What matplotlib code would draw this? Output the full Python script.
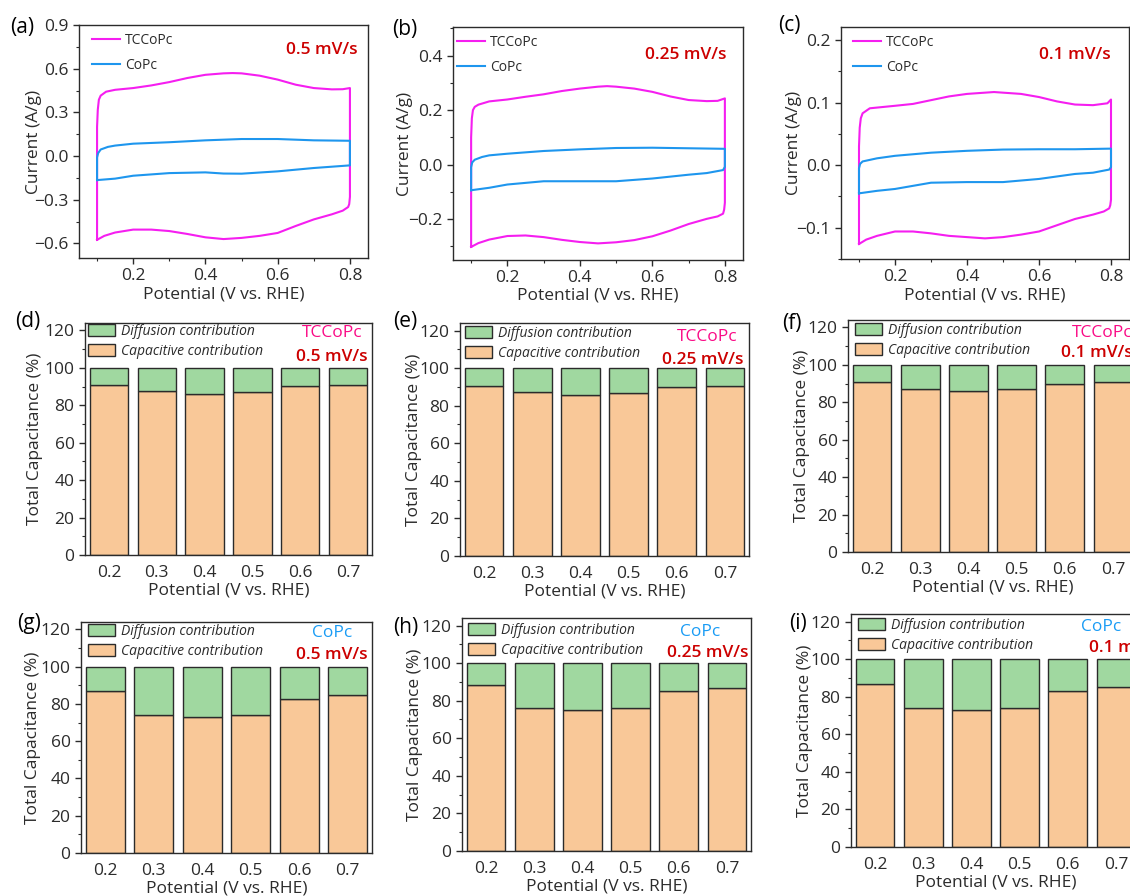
import matplotlib
matplotlib.use("Agg")
import matplotlib.pyplot as plt
from matplotlib.ticker import MultipleLocator

# ---------------------------------------------------------------------------
# Cyclic voltammograms: potential (V vs. RHE) and specific current (A/g)
# each loop = anodic sweep (0.1 -> 0.8 V) followed by cathodic sweep (0.8 -> 0.1 V)
# ---------------------------------------------------------------------------
scan_rates = ["0.5 mV/s", "0.25 mV/s", "0.1 mV/s"]

# 0.5 mV/s
tccopc_05_E_up = [0.100, 0.100, 0.102, 0.105, 0.110, 0.125, 0.150, 0.200, 0.250, 0.300, 0.350,
                  0.400, 0.450, 0.475, 0.500, 0.550, 0.600, 0.650, 0.700, 0.750, 0.780, 0.800]
tccopc_05_I_up = [-0.575, 0.200, 0.318, 0.387, 0.415, 0.442, 0.455, 0.467, 0.485, 0.508, 0.536,
                  0.558, 0.568, 0.570, 0.568, 0.552, 0.525, 0.490, 0.467, 0.458, 0.459, 0.467]
tccopc_05_E_dn = [0.800, 0.800, 0.798, 0.795, 0.780, 0.750, 0.700, 0.650, 0.600, 0.550, 0.500,
                  0.450, 0.400, 0.350, 0.300, 0.250, 0.200, 0.150, 0.120, 0.100]
tccopc_05_I_dn = [0.467, -0.280, -0.330, -0.350, -0.375, -0.400, -0.435, -0.480, -0.528, -0.548,
                  -0.562, -0.570, -0.558, -0.535, -0.515, -0.505, -0.505, -0.525, -0.548, -0.575]
copc_05_E_up = [0.100, 0.100, 0.103, 0.110, 0.130, 0.150, 0.200, 0.300, 0.400, 0.500, 0.600, 0.700, 0.800]
copc_05_I_up = [-0.165, -0.010, 0.020, 0.045, 0.063, 0.072, 0.085, 0.095, 0.108, 0.117, 0.117, 0.108, 0.105]
copc_05_E_dn = [0.800, 0.800, 0.700, 0.600, 0.500, 0.450, 0.400, 0.300, 0.200, 0.150, 0.100]
copc_05_I_dn = [0.105, -0.064, -0.082, -0.105, -0.121, -0.120, -0.112, -0.117, -0.135, -0.155, -0.165]

# 0.25 mV/s
tccopc_025_E_up = [0.100, 0.100, 0.102, 0.105, 0.110, 0.120, 0.150, 0.200, 0.250, 0.300, 0.350,
                   0.400, 0.450, 0.475, 0.500, 0.550, 0.600, 0.650, 0.700, 0.750, 0.780, 0.800]
tccopc_025_I_up = [-0.302, 0.100, 0.170, 0.200, 0.212, 0.220, 0.232, 0.239, 0.249, 0.258, 0.270,
                   0.279, 0.286, 0.288, 0.286, 0.279, 0.267, 0.250, 0.237, 0.233, 0.234, 0.243]
tccopc_025_E_dn = [0.800, 0.800, 0.798, 0.795, 0.780, 0.750, 0.700, 0.650, 0.600, 0.550, 0.500,
                   0.450, 0.400, 0.350, 0.300, 0.250, 0.200, 0.150, 0.120, 0.100]
tccopc_025_I_dn = [0.243, -0.140, -0.165, -0.180, -0.190, -0.199, -0.218, -0.242, -0.263, -0.277,
                   -0.285, -0.289, -0.284, -0.276, -0.266, -0.260, -0.262, -0.275, -0.288, -0.302]
copc_025_E_up = [0.100, 0.100, 0.103, 0.110, 0.130, 0.150, 0.200, 0.300, 0.400, 0.500, 0.600, 0.700, 0.800]
copc_025_I_up = [-0.094, -0.010, 0.008, 0.018, 0.028, 0.034, 0.040, 0.050, 0.056, 0.061, 0.062, 0.060, 0.058]
copc_025_E_dn = [0.800, 0.800, 0.795, 0.750, 0.700, 0.600, 0.500, 0.400, 0.300, 0.200, 0.150, 0.100]
copc_025_I_dn = [0.058, -0.008, -0.020, -0.031, -0.037, -0.051, -0.061, -0.061, -0.061, -0.073, -0.085, -0.094]

# 0.1 mV/s
tccopc_01_E_up = [0.100, 0.100, 0.102, 0.105, 0.110, 0.130, 0.200, 0.250, 0.300, 0.350, 0.400,
                  0.450, 0.475, 0.500, 0.550, 0.600, 0.650, 0.700, 0.750, 0.790, 0.800]
tccopc_01_I_up = [-0.126, 0.030, 0.060, 0.075, 0.083, 0.091, 0.095, 0.098, 0.104, 0.110, 0.114,
                  0.116, 0.117, 0.116, 0.114, 0.109, 0.102, 0.097, 0.096, 0.099, 0.105]
tccopc_01_E_dn = [0.800, 0.800, 0.798, 0.795, 0.780, 0.750, 0.700, 0.650, 0.600, 0.550, 0.500,
                  0.450, 0.400, 0.350, 0.300, 0.250, 0.200, 0.150, 0.120, 0.100]
tccopc_01_I_dn = [0.105, -0.055, -0.064, -0.069, -0.074, -0.079, -0.086, -0.096, -0.106, -0.111,
                  -0.115, -0.117, -0.115, -0.113, -0.109, -0.106, -0.106, -0.113, -0.119, -0.126]
copc_01_E_up = [0.100, 0.100, 0.103, 0.110, 0.150, 0.200, 0.300, 0.400, 0.500, 0.600, 0.700, 0.800]
copc_01_I_up = [-0.045, -0.005, 0.002, 0.006, 0.011, 0.015, 0.020, 0.023, 0.025, 0.0255, 0.0255, 0.0265]
copc_01_E_dn = [0.800, 0.800, 0.795, 0.750, 0.700, 0.600, 0.500, 0.400, 0.300, 0.200, 0.150, 0.100]
copc_01_I_dn = [0.0265, -0.003, -0.007, -0.012, -0.014, -0.022, -0.027, -0.027, -0.028, -0.038, -0.041, -0.045]

# ---------------------------------------------------------------------------
# Capacitive share of the total capacitance (%) at each potential
# ---------------------------------------------------------------------------
potentials = ["0.2", "0.3", "0.4", "0.5", "0.6", "0.7"]
cap_tccopc_05 = [90.7, 87.6, 86.1, 87.2, 90.1, 90.6]
cap_tccopc_025 = [90.6, 87.4, 85.9, 87.0, 89.9, 90.6]
cap_tccopc_01 = [90.6, 87.2, 85.9, 87.0, 89.7, 90.6]
cap_copc_05 = [86.8, 73.9, 72.8, 73.9, 82.9, 84.7]
cap_copc_025 = [88.1, 75.9, 75.1, 75.9, 85.0, 87.0]
cap_copc_01 = [86.8, 73.9, 72.9, 73.9, 83.0, 85.0]

# ---------------------------------------------------------------------------
W, H = 1130, 896
plt.rcParams['font.family'] = ['Open Sans', 'DejaVu Sans']
plt.rcParams['axes.linewidth'] = 1.0

INK = '#2b2b2b'
MAGENTA = '#F51EF0'
BLUE = '#1E96EE'
RED = '#CC0000'
PINK = '#FA0A86'
CYAN = '#1A9CF5'
GREEN = '#A0D8A0'
ORANGE = '#F9C898'

fig = plt.figure(figsize=(W / 100, H / 100), dpi=100)


def add_ax(l, t, r, b):
    return fig.add_axes([l / W, 1 - b / H, (r - l) / W, (b - t) / H])


def style(ax, ylab_gap, xlab_gap, wpx, hpx):
    for s in ax.spines.values():
        s.set_color(INK)
        s.set_linewidth(1.0)
    ax.tick_params(which='both', direction='out', color=INK, labelcolor=INK,
                   top=False, right=False)
    ax.tick_params(which='major', length=4.5, width=1.0, labelsize=12.5, pad=3)
    ax.tick_params(which='minor', length=2.5, width=0.8)
    ax.yaxis.set_label_coords(-ylab_gap / wpx, 0.5)
    ax.xaxis.set_label_coords(0.5, -xlab_gap / hpx)


def ftext(x, y, s, **kw):
    fig.text(x / W, 1 - y / H, s, ha='center', va='center', **kw)


def loop(E_up, I_up, E_dn, I_dn):
    return list(E_up) + list(E_dn), list(I_up) + list(I_dn)


# ---------------- CV panels ----------------
cv_panels = [
    dict(box=(79, 25, 368, 258), ylim=(-0.7, 0.9), major=0.3, minor=0.15, ygap=37,
         t=loop(tccopc_05_E_up, tccopc_05_I_up, tccopc_05_E_dn, tccopc_05_I_dn),
         c=loop(copc_05_E_up, copc_05_I_up, copc_05_E_dn, copc_05_I_dn),
         leg=(92, 33), rate=(322, 50), tag='(a)', tagpos=(22, 27)),
    dict(box=(453, 27, 743, 260), ylim=(-0.35, 0.505), major=0.2, minor=0.1, ygap=40,
         t=loop(tccopc_025_E_up, tccopc_025_I_up, tccopc_025_E_dn, tccopc_025_I_dn),
         c=loop(copc_025_E_up, copc_025_I_up, copc_025_E_dn, copc_025_I_dn),
         leg=(457, 35), rate=(686, 55), tag='(b)', tagpos=(405, 30)),
    dict(box=(841, 27, 1129, 259), ylim=(-0.15, 0.221), major=0.1, minor=0.05, ygap=39,
         t=loop(tccopc_01_E_up, tccopc_01_I_up, tccopc_01_E_dn, tccopc_01_I_dn),
         c=loop(copc_01_E_up, copc_01_I_up, copc_01_E_dn, copc_01_I_dn),
         leg=(853, 35), rate=(1075, 55), tag='(c)', tagpos=(789, 25)),
]

for i, p in enumerate(cv_panels):
    l, t, r, b = p['box']
    ax = add_ax(l, t, r, b)
    ax.plot(*p['t'], color=MAGENTA, lw=1.5, label='TCCoPc')
    ax.plot(*p['c'], color=BLUE, lw=1.5, label='CoPc')
    ax.set_xlim(0.05, 0.85)
    ax.set_ylim(*p['ylim'])
    ax.xaxis.set_major_locator(MultipleLocator(0.2))
    ax.xaxis.set_minor_locator(MultipleLocator(0.1))
    ax.yaxis.set_major_locator(MultipleLocator(p['major']))
    ax.yaxis.set_minor_locator(MultipleLocator(p['minor']))
    ax.xaxis.set_major_formatter(plt.FuncFormatter(lambda v, _: f"{v:.1f}"))
    ax.yaxis.set_major_formatter(plt.FuncFormatter(
        lambda v, _: (f"{v:.1f}" if abs(v) > 1e-9 else "0.0").replace('-', '\u2212')))
    ax.set_xlabel('Potential (V vs. RHE)', fontsize=12.5, color=INK)
    ax.set_ylabel('Current (A/g)', fontsize=12.5, color=INK)
    style(ax, p['ygap'], 28, r - l, b - t)
    ax.legend(loc='upper left', bbox_to_anchor=(p['leg'][0] / W, 1 - p['leg'][1] / H),
              bbox_transform=fig.transFigure, frameon=False, borderpad=0, borderaxespad=0,
              fontsize=10, handlelength=2.0, handletextpad=0.4, labelspacing=0.72,
              labelcolor=INK)
    ftext(*p['rate'], scan_rates[i], color=RED, fontsize=12.5, fontweight='semibold')
    ftext(*p['tagpos'], p['tag'], color='black', fontsize=15)

# ---------------- contribution bar panels ----------------
bar_panels = [
    dict(box=(85, 323, 372, 555), cap=cap_tccopc_05, ygap=42, name='TCCoPc', ncol=PINK,
         leg=(88, 324), name_xy=(332, 333), rate_xy=(332, 357), rate=0, tag='(d)', tagpos=(28, 322)),
    dict(box=(460, 323, 749, 556), cap=cap_tccopc_025, ygap=38, name='TCCoPc', ncol=PINK,
         leg=(465, 326), name_xy=(707, 337), rate_xy=(703, 360), rate=1, tag='(e)', tagpos=(405, 322)),
    dict(box=(848, 320, 1137, 552), cap=cap_tccopc_01, ygap=38, name='TCCoPc', ncol=PINK,
         leg=(855, 323), name_xy=(1102, 333), rate_xy=(1097, 353), rate=2, tag='(f)', tagpos=(792, 324)),
    dict(box=(81, 622, 372, 853), cap=cap_copc_05, ygap=40, name='CoPc', ncol=CYAN,
         leg=(88, 624), name_xy=(332, 633), rate_xy=(332, 655), rate=0, tag='(g)', tagpos=(29, 623)),
    dict(box=(462, 618, 751, 851), cap=cap_copc_025, ygap=39, name='CoPc', ncol=CYAN,
         leg=(468, 623), name_xy=(700, 632), rate_xy=(708, 653), rate=1, tag='(h)', tagpos=(406, 627)),
    dict(box=(851, 614, 1140, 847), cap=cap_copc_01, ygap=38, name='CoPc', ncol=CYAN,
         leg=(858, 618), name_xy=(1101, 627), rate_xy=(1125, 648), rate=2, tag='(i)', tagpos=(798, 623)),
]

for p in bar_panels:
    l, t, r, b = p['box']
    ax = add_ax(l, t, r, b)
    cap = p['cap']
    diff = [100 - v for v in cap]
    bc = ax.bar(potentials, cap, width=0.8, color=ORANGE, edgecolor=INK, linewidth=1.0,
                label='Capacitive contribution')
    bd = ax.bar(potentials, diff, bottom=cap, width=0.8, color=GREEN, edgecolor=INK,
                linewidth=1.0, label='Diffusion contribution')
    ax.set_xlim(-0.5, 5.5)
    ax.set_ylim(0, 124)
    ax.yaxis.set_major_locator(MultipleLocator(20))
    ax.yaxis.set_minor_locator(MultipleLocator(10))
    ax.set_xlabel('Potential (V vs. RHE)', fontsize=12.5, color=INK)
    ax.set_ylabel('Total Capacitance (%)', fontsize=12.5, color=INK)
    style(ax, p['ygap'], 27, r - l, b - t)
    ax.tick_params(axis='x', which='both', length=0, pad=7)
    ax.legend([bd, bc], ['Diffusion contribution', 'Capacitive contribution'],
              loc='upper left', bbox_to_anchor=(p['leg'][0] / W, 1 - p['leg'][1] / H),
              bbox_transform=fig.transFigure, frameon=False, borderpad=0, borderaxespad=0,
              handlelength=1.95, handleheight=0.9, handletextpad=0.45,
              labelspacing=0.35, prop=dict(style='italic', size=10), labelcolor=INK)
    ftext(*p['name_xy'], p['name'], color=p['ncol'], fontsize=12.5)
    ftext(*p['rate_xy'], scan_rates[p['rate']], color=RED, fontsize=12.5, fontweight='semibold')
    ftext(*p['tagpos'], p['tag'], color='black', fontsize=15)

fig.savefig('out.png', dpi=100)
